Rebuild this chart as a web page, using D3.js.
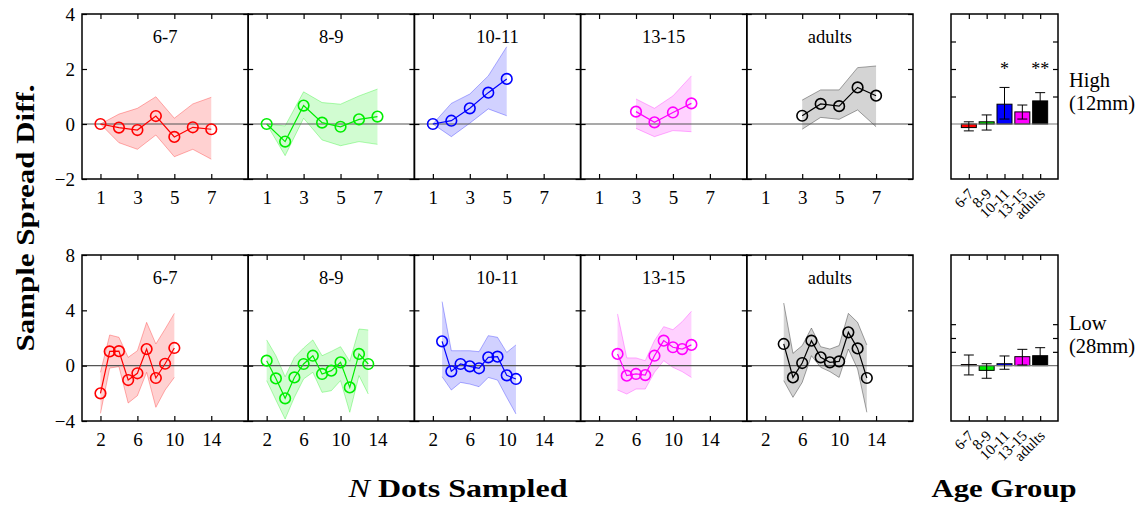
<!DOCTYPE html>
<html><head><meta charset="utf-8">
<script src="https://cdn.jsdelivr.net/npm/d3@7"></script>
<style>body{margin:0;background:#fff}svg{display:block;font-family:"Liberation Serif",serif}</style>
</head><body><svg id="c" width="1147" height="508"></svg>
<script>
const categories = ["6-7","8-9","10-11","13-15","adults"];
const colors = ["#ff0000","#00ee00","#0000ff","#ff00ff","#000000"];

const highXTicks = [1,3,5,7];
const highYTicks = [-2,0,2,4];
const lowXTicks = [2,6,10,14];
const lowYTicks = [-4,0,4,8];
const barYTicks = [1,2,3];

const highN = [[1,2,3,4,5,6,7],[1,2,3,4,5,6,7],[1,2,3,4,5],[3,4,5,6],[3,4,5,6,7]];
const highMean = [[0,-0.13,-0.22,0.29,-0.47,-0.12,-0.19],[0,-0.64,0.67,0.05,-0.10,0.17,0.27],[0,0.12,0.57,1.14,1.64],[0.45,0.06,0.42,0.75],[0.30,0.73,0.65,1.33,1.03]];
const highUpper = [[0,0.36,0.57,0.99,0.21,0.73,0.97],[0,-0.07,1.17,0.78,0.72,1.02,1.27],[0,0.75,1.09,1.75,2.81],[0.91,0.57,1.02,1.75],[0.87,1.24,1.24,2.05,2.11]];
const highLower = [[0,-0.68,-0.92,-0.40,-1.19,-0.92,-1.28],[0,-1.15,0.21,-0.58,-0.79,-0.64,-0.74],[0,-0.46,0.03,0.55,0.30],[-0.16,-0.46,-0.24,-0.28],[-0.19,0.24,0.17,0.51,-0.10]];

const lowN = [[2,3,4,5,6,7,8,9,10],[2,3,4,5,6,7,8,9,10,11,12,13],[3,4,5,6,7,8,9,10,11],[4,5,6,7,8,9,10,11,12],[4,5,6,7,8,9,10,11,12,13]];
const lowMean = [
 [-2.0,1.03,1.05,-1.04,-0.55,1.2,-0.89,0.14,1.28],
 [0.36,-0.92,-2.36,-0.85,0.12,0.72,-0.6,-0.36,0.24,-1.57,0.85,0.12],
 [1.76,-0.41,0.12,-0.05,-0.19,0.6,0.65,-0.7,-0.96],
 [0.85,-0.72,-0.6,-0.68,0.72,1.81,1.33,1.2,1.5],
 [1.57,-0.85,0.19,1.81,0.6,0.24,0.31,2.41,1.25,-0.89]];
const lowUpper = [
 [-0.48,2.22,2.05,0.6,1.08,3.13,1.57,2.65,3.78],
 [1.86,0.72,-0.8,0.6,1.28,1.86,0.72,1.03,1.37,0.31,2.65,2.58],
 [4.63,1.08,1.08,1.08,1.01,2.17,2.05,0.96,1.5],
 [3.74,0.56,0.56,0.36,1.81,2.82,2.6,3.18,3.93],
 [4.53,0.89,1.45,2.72,1.37,1.2,1.45,3.78,3.13,1.5]];
const lowLower = [
 [-3.45,-0.17,-0.07,-2.7,-2.17,-0.48,-3.01,-1.76,-0.85],
 [-1.08,-2.48,-3.86,-2.29,-0.96,-0.48,-1.93,-1.81,-1.08,-3.37,-0.72,-2.05],
 [-0.8,-1.76,-1.21,-1.33,-1.52,-0.85,-1.04,-2.29,-3.49],
 [-1.76,-2.05,-1.69,-1.69,-0.48,0.36,-0.12,-0.43,-0.85],
 [-1.08,-2.29,-1.21,0.72,-0.12,-0.43,-0.85,1.2,-0.24,-3.37]];

const barHighMean = [-0.13,0.08,0.72,0.44,0.84];
const barHighUp = [0.08,0.33,1.33,0.69,1.14];
const barHighLo = [-0.25,-0.22,0.18,0.18,0.55];
const barHighSig = ["","","*","","**"];
const barLowMean = [0.08,-0.34,0.14,0.65,0.72];
const barLowUp = [0.77,0.14,0.70,1.18,1.30];
const barLowLo = [-0.67,-0.91,-0.26,0.05,0.08];
const barLowSig = ["","","","",""];

const svg = d3.select("#c");
const panelLeft = 82, panelW = 166.2;
const barLeft = 951, barRight = 1058;

const rows = [
 {top:14, bottom:179, xDom:[0,9], xTicks:highXTicks, yDom:[-2,4], yTicks:highYTicks,
  N:highN, mean:highMean, up:highUpper, lo:highLower,
  bMean:barHighMean, bUp:barHighUp, bLo:barHighLo, sig:barHighSig, label:["High","(12mm)"], labelY:[87,110]},
 {top:255, bottom:421, xDom:[0,18], xTicks:lowXTicks, yDom:[-4,8], yTicks:lowYTicks,
  N:lowN, mean:lowMean, up:lowUpper, lo:lowLower,
  bMean:barLowMean, bUp:barLowUp, bLo:barLowLo, sig:barLowSig, label:["Low","(28mm)"], labelY:[330,353]}
];

function styleAxis(g, fs){
  g.select(".domain").remove();
  g.selectAll(".tick line").attr("stroke","#000").attr("stroke-width",1.2);
  g.selectAll(".tick text").attr("fill","#000").style("font-size",fs+"px").style("font-family","Liberation Serif");
}

rows.forEach(r => {
  const y = d3.scaleLinear(r.yDom, [r.bottom, r.top]);
  categories.forEach((cat, i) => {
    const px = panelLeft + i*panelW;
    const x = d3.scaleLinear(r.xDom, [px, px+panelW]);
    const g = svg.append("g");
    const pts = r.N[i].map((n,k)=>({n, m:r.mean[i][k], u:r.up[i][k], l:r.lo[i][k]}));
    const col = colors[i];
    g.append("path").datum(pts)
      .attr("d", d3.area().x(d=>x(d.n)).y0(d=>y(d.l)).y1(d=>y(d.u)))
      .attr("fill", col).attr("fill-opacity", i===4?0.17:0.18).attr("stroke","none");
    ["u","l"].forEach(key=>{
      g.append("path").datum(pts)
        .attr("d", d3.line().x(d=>x(d.n)).y(d=>y(d[key])))
        .attr("fill","none").attr("stroke", col).attr("stroke-opacity", i===4?0.35:0.3).attr("stroke-width",1);
    });
    g.append("line").attr("x1",px).attr("x2",px+panelW).attr("y1",y(0)).attr("y2",y(0))
      .attr("stroke","#555").attr("stroke-width",1.2);
    g.append("path").datum(pts)
      .attr("d", d3.line().x(d=>x(d.n)).y(d=>y(d.m)))
      .attr("fill","none").attr("stroke", col).attr("stroke-width",1.2);
    g.selectAll("circle.pt").data(pts).join("circle")
      .attr("cx",d=>x(d.n)).attr("cy",d=>y(d.m)).attr("r",5.3)
      .attr("fill","none").attr("stroke",col).attr("stroke-width",1.6);

    g.append("g").attr("transform",`translate(0,${r.bottom})`)
      .call(d3.axisBottom(x).tickValues(r.xTicks).tickSizeInner(-5).tickSizeOuter(0).tickPadding(12).tickFormat(d3.format("d")))
      .call(a=>styleAxis(a,19));
    g.append("g").attr("transform",`translate(0,${r.top})`)
      .call(d3.axisTop(x).tickValues(r.xTicks).tickSizeInner(-5).tickSizeOuter(0).tickFormat(""))
      .call(a=>styleAxis(a,19));
    g.append("g").attr("transform",`translate(${px},0)`)
      .call(d3.axisLeft(y).tickValues(r.yTicks).tickSizeInner(-5).tickSizeOuter(0).tickPadding(7).tickFormat(i===0?d3.format("d"):""))
      .call(a=>styleAxis(a,19));
    g.append("g").attr("transform",`translate(${px+panelW},0)`)
      .call(d3.axisRight(y).tickValues(r.yTicks).tickSizeInner(-5).tickSizeOuter(0).tickFormat(""))
      .call(a=>styleAxis(a,19));
    g.append("rect").attr("x",px).attr("y",r.top).attr("width",panelW).attr("height",r.bottom-r.top)
      .attr("fill","none").attr("stroke","#000").attr("stroke-width",1.5);
    g.append("text").attr("x",px+panelW/2).attr("y",r.top+29).attr("text-anchor","middle")
      .style("font-size","18.5px").attr("fill","#000").text(cat);
  });

  // bar panel
  const bx = d3.scaleLinear([0,6],[barLeft, barRight]);
  const bg = svg.append("g");
  const bw = 15, cap = 5;
  categories.forEach((cat,i)=>{
    const cx = bx(i+1);
    const v = r.bMean[i];
    bg.append("rect").attr("x",cx-bw/2).attr("y",y(Math.max(0,v))).attr("width",bw)
      .attr("height",Math.abs(y(v)-y(0))).attr("fill",colors[i]).attr("stroke","#000").attr("stroke-width",1);
  });
  bg.append("line").attr("x1",barLeft).attr("x2",barRight).attr("y1",y(0)).attr("y2",y(0))
    .attr("stroke","#777").attr("stroke-width",1.2);
  categories.forEach((cat,i)=>{
    const cx = bx(i+1);
    const yu = y(r.bUp[i]), yl = y(r.bLo[i]);
    bg.append("line").attr("x1",cx).attr("x2",cx).attr("y1",yu).attr("y2",yl).attr("stroke","#000").attr("stroke-width",1);
    [yu,yl].forEach(yy=>bg.append("line").attr("x1",cx-cap).attr("x2",cx+cap).attr("y1",yy).attr("y2",yy).attr("stroke","#000").attr("stroke-width",1));
    if (r.sig[i]) bg.append("text").attr("x",cx).attr("y",y(2)+6).attr("text-anchor","middle")
      .style("font-size","18px").attr("fill","#000").text(r.sig[i]);
    bg.append("text").attr("transform",`translate(${cx+2},${r.bottom+12}) rotate(-45)`)
      .attr("text-anchor","end").attr("dy","0.35em").style("font-size","15px").attr("fill","#000").text(cat);
  });
  const catPos = categories.map((c,i)=>i+1);
  bg.append("g").attr("transform",`translate(0,${r.bottom})`)
    .call(d3.axisBottom(bx).tickValues(catPos).tickSizeInner(-5).tickSizeOuter(0).tickFormat("")).call(a=>styleAxis(a,14));
  bg.append("g").attr("transform",`translate(0,${r.top})`)
    .call(d3.axisTop(bx).tickValues(catPos).tickSizeInner(-5).tickSizeOuter(0).tickFormat("")).call(a=>styleAxis(a,14));
  bg.append("g").attr("transform",`translate(${barLeft},0)`)
    .call(d3.axisLeft(y).tickValues(barYTicks).tickSizeInner(-5).tickSizeOuter(0).tickFormat("")).call(a=>styleAxis(a,14));
  bg.append("g").attr("transform",`translate(${barRight},0)`)
    .call(d3.axisRight(y).tickValues(barYTicks).tickSizeInner(-5).tickSizeOuter(0).tickFormat("")).call(a=>styleAxis(a,14));
  bg.append("rect").attr("x",barLeft).attr("y",r.top).attr("width",barRight-barLeft).attr("height",r.bottom-r.top)
    .attr("fill","none").attr("stroke","#000").attr("stroke-width",1.5);
  r.label.forEach((t,k)=>svg.append("text").attr("x",1069).attr("y",r.labelY[k])
    .style("font-size","20.5px").attr("fill","#000").text(t));
});

svg.append("text").attr("transform","translate(34,218) rotate(-90)").attr("text-anchor","middle")
  .attr("font-weight","bold").style("font-size","25px").attr("textLength",267).attr("lengthAdjust","spacingAndGlyphs")
  .attr("fill","#000").text("Sample Spread Diff.");
const xt = svg.append("text").attr("x",458).attr("y",497).attr("text-anchor","middle")
  .attr("font-weight","bold").style("font-size","25px").attr("textLength",219).attr("lengthAdjust","spacingAndGlyphs").attr("fill","#000");
xt.append("tspan").attr("font-style","italic").attr("font-weight","normal").text("N");
xt.append("tspan").text(" Dots Sampled");
svg.append("text").attr("x",1004).attr("y",497).attr("text-anchor","middle")
  .attr("font-weight","bold").style("font-size","25px").attr("textLength",145).attr("lengthAdjust","spacingAndGlyphs")
  .attr("fill","#000").text("Age Group");
</script></body></html>
